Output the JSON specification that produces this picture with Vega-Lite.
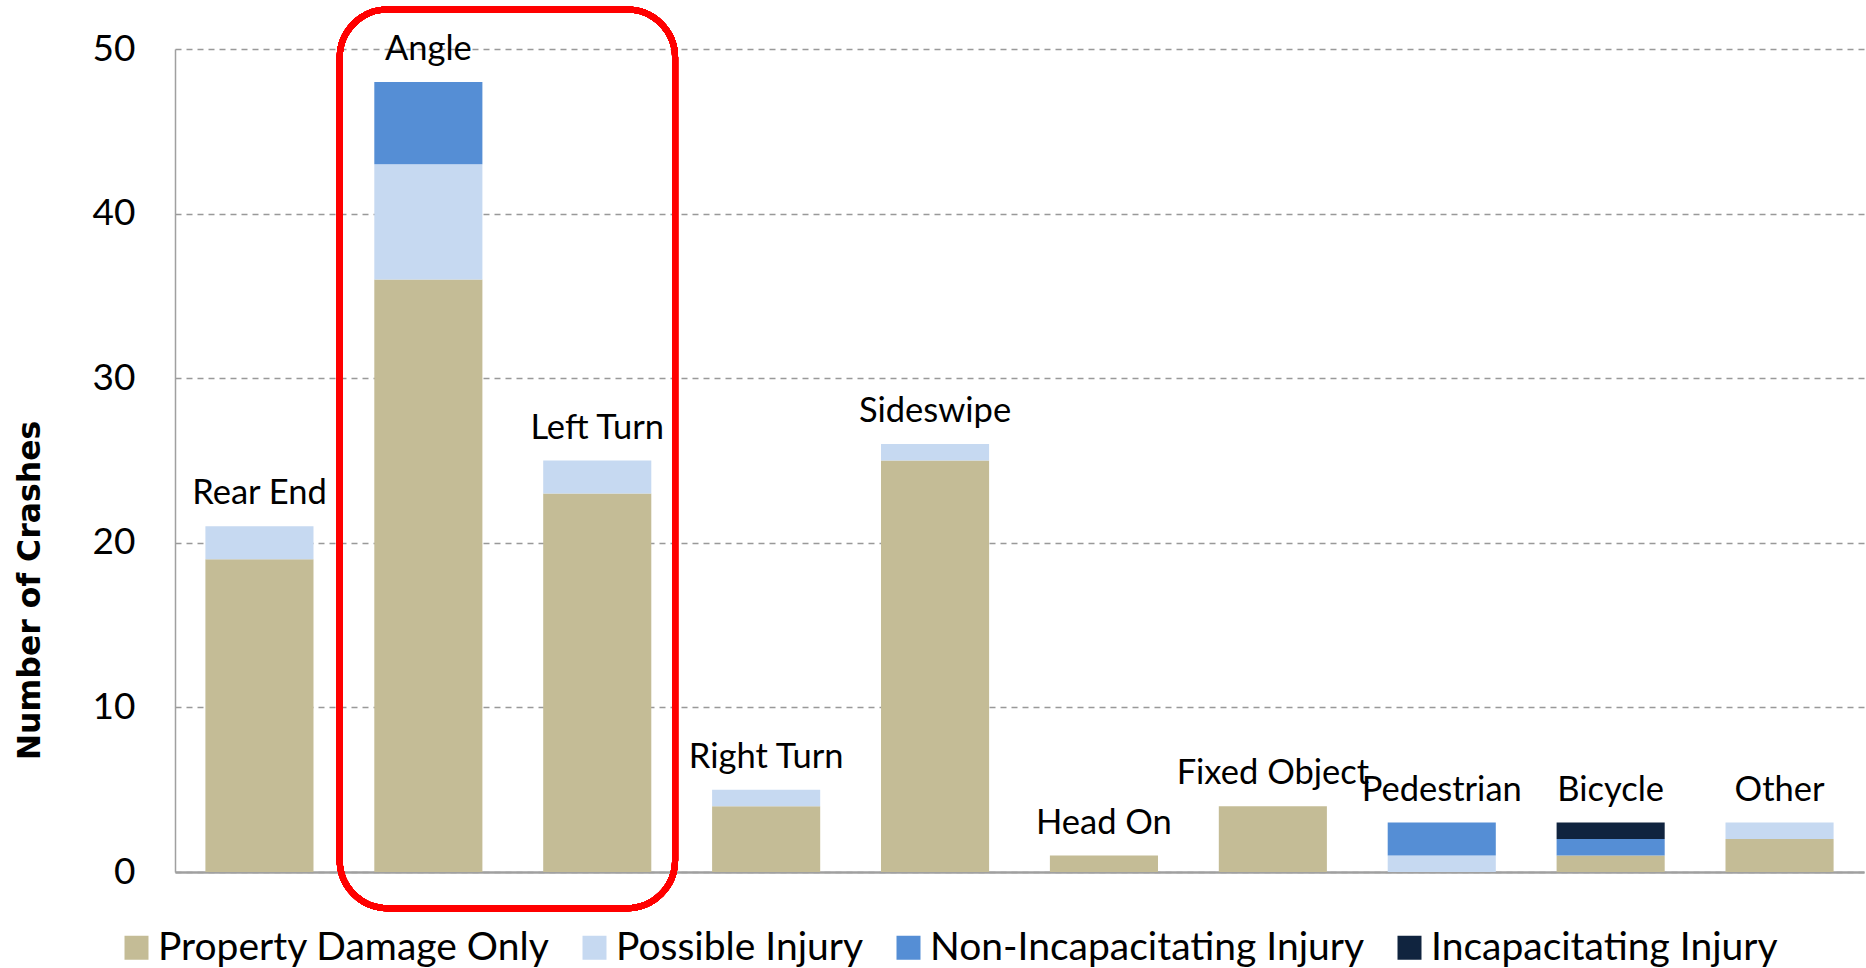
{
  "$schema": "https://vega.github.io/schema/vega-lite/v6.json",
  "width": 1689,
  "height": 823,
  "autosize": "none",
  "padding": {"left": 175, "top": 49, "right": 2, "bottom": 96},
  "config": {"view": {"stroke": null}, "font": "Lato"},
  "data": {
    "values": [
      {"type": "Rear End", "severity": "Property Damage Only", "sev": 1, "count": 19},
      {"type": "Rear End", "severity": "Possible Injury", "sev": 2, "count": 2},
      {"type": "Angle", "severity": "Property Damage Only", "sev": 1, "count": 36},
      {"type": "Angle", "severity": "Possible Injury", "sev": 2, "count": 7},
      {"type": "Angle", "severity": "Non-Incapacitating Injury", "sev": 3, "count": 5},
      {"type": "Left Turn", "severity": "Property Damage Only", "sev": 1, "count": 23},
      {"type": "Left Turn", "severity": "Possible Injury", "sev": 2, "count": 2},
      {"type": "Right Turn", "severity": "Property Damage Only", "sev": 1, "count": 4},
      {"type": "Right Turn", "severity": "Possible Injury", "sev": 2, "count": 1},
      {"type": "Sideswipe", "severity": "Property Damage Only", "sev": 1, "count": 25},
      {"type": "Sideswipe", "severity": "Possible Injury", "sev": 2, "count": 1},
      {"type": "Head On", "severity": "Property Damage Only", "sev": 1, "count": 1},
      {"type": "Fixed Object", "severity": "Property Damage Only", "sev": 1, "count": 4},
      {"type": "Pedestrian", "severity": "Possible Injury", "sev": 2, "count": 1},
      {"type": "Pedestrian", "severity": "Non-Incapacitating Injury", "sev": 3, "count": 2},
      {"type": "Bicycle", "severity": "Property Damage Only", "sev": 1, "count": 1},
      {"type": "Bicycle", "severity": "Non-Incapacitating Injury", "sev": 3, "count": 1},
      {"type": "Bicycle", "severity": "Incapacitating Injury", "sev": 4, "count": 1},
      {"type": "Other", "severity": "Property Damage Only", "sev": 1, "count": 2},
      {"type": "Other", "severity": "Possible Injury", "sev": 2, "count": 1}
    ]
  },
  "layer": [
    {
      "mark": {"type": "bar"},
      "encoding": {
        "x": {
          "field": "type", "type": "nominal",
          "scale": {"domain": ["Rear End", "Angle", "Left Turn", "Right Turn", "Sideswipe", "Head On", "Fixed Object", "Pedestrian", "Bicycle", "Other"], "paddingInner": 0.36, "paddingOuter": 0.18},
          "axis": {"title": null, "labels": false, "ticks": false, "domain": true, "domainColor": "#a0a0a0", "domainWidth": 2.5, "grid": false}
        },
        "y": {
          "field": "count", "type": "quantitative", "stack": "zero",
          "scale": {"domain": [0, 50]},
          "axis": {
            "title": "Number of Crashes", "titleFont": "DejaVu Sans", "titleFontWeight": "bold", "titleFontSize": 31.5, "titleColor": "black",
            "titleAngle": -90, "titleX": -145, "titleY": 541, "titleAlign": "center", "titleBaseline": "middle",
            "values": [0, 10, 20, 30, 40, 50], "ticks": false, "tickSize": 0,
            "labelFontSize": 37, "labelFont": "Lato", "labelColor": "black", "labelPadding": 40,
            "domain": true, "domainColor": "#a0a0a0", "domainWidth": 1.5,
            "grid": true, "gridColor": "#999999", "gridDash": [6, 5], "gridWidth": 1.5
          }
        },
        "color": {
          "field": "severity", "type": "nominal",
          "scale": {"domain": ["Property Damage Only", "Possible Injury", "Non-Incapacitating Injury", "Incapacitating Injury"], "range": ["#C4BC96", "#C6D9F1", "#558ED5", "#10243F"]},
          "legend": {
            "orient": "none", "legendX": -58, "legendY": 879, "direction": "horizontal", "title": null,
            "symbolType": "square", "symbolSize": 576, "symbolStrokeWidth": 0,
            "labelFontSize": 39, "labelFont": "Lato", "labelColor": "black", "columnPadding": 25, "labelOffset": 2, "labelLimit": 0
          }
        },
        "order": {"field": "sev", "type": "quantitative", "sort": "ascending"}
      }
    },
    {
      "transform": [{"aggregate": [{"op": "sum", "field": "count", "as": "total"}], "groupby": ["type"]}],
      "mark": {"type": "text", "dy": -32, "fontSize": 34.5, "font": "Lato", "color": "black", "baseline": "middle", "align": "center"},
      "encoding": {
        "x": {"field": "type", "type": "nominal", "scale": {"domain": ["Rear End", "Angle", "Left Turn", "Right Turn", "Sideswipe", "Head On", "Fixed Object", "Pedestrian", "Bicycle", "Other"]}},
        "y": {"field": "total", "type": "quantitative", "scale": {"domain": [0, 50]}, "title": "Number of Crashes"},
        "text": {"field": "type"}
      }
    },
    {
      "mark": {"type": "rect", "filled": false, "stroke": "#ff0000", "strokeWidth": 6, "cornerRadius": 48},
      "encoding": {
        "x": {"datum": "Angle", "type": "nominal", "bandPosition": -0.32},
        "x2": {"datum": "Left Turn", "bandPosition": 1.22},
        "y": {"datum": 52.4, "type": "quantitative"},
        "y2": {"datum": -2.2}
      }
    }
  ]
}
